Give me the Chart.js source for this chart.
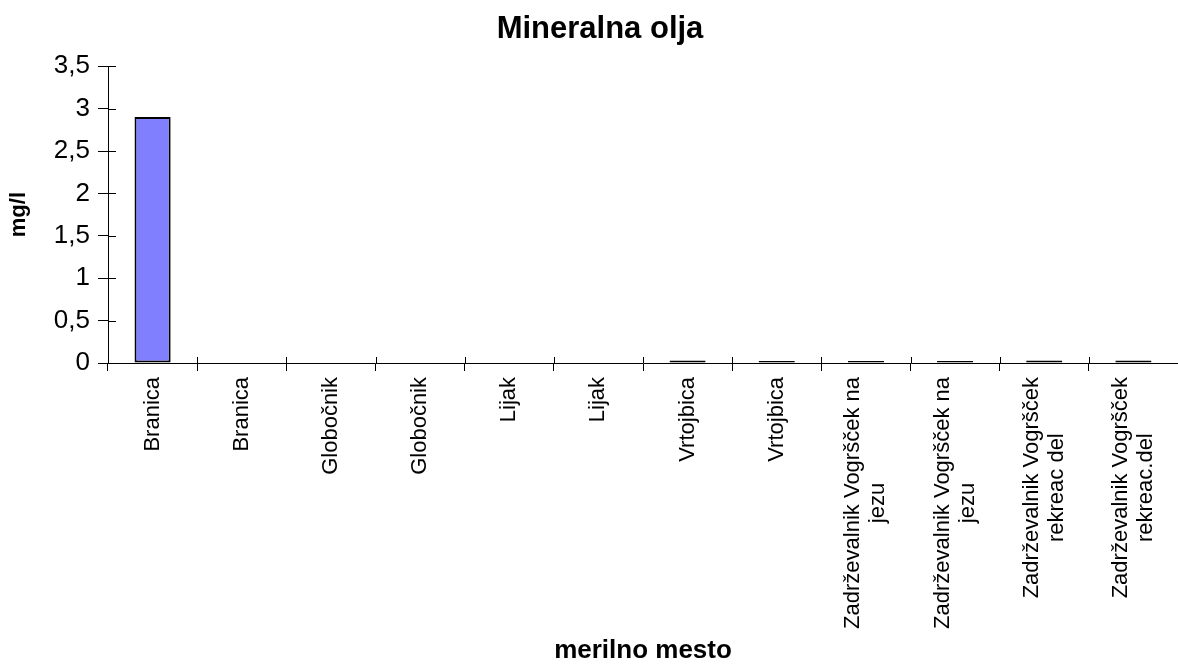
<!DOCTYPE html>
<html>
<head>
<meta charset="utf-8">
<script src="https://cdn.jsdelivr.net/npm/chart.js@4/dist/chart.umd.min.js"></script>
<style>
  html, body { margin: 0; padding: 0; background: #fff; }
  #wrap { width: 1178px; height: 666px; }
</style>
</head>
<body>
<div id="wrap"><canvas id="c"></canvas></div>
<script>
// data
const categories = [
  'Branica', 'Branica', 'Globočnik', 'Globočnik', 'Lijak', 'Lijak',
  'Vrtojbica', 'Vrtojbica',
  ['Zadrževalnik Vogršček na', 'jezu'],
  ['Zadrževalnik Vogršček na', 'jezu'],
  ['Zadrževalnik Vogršček', 'rekreac del'],
  ['Zadrževalnik Vogršček', 'rekreac.del']
];
const values = [2.9, 0, 0, 0, 0, 0, 0.03, 0.025, 0.025, 0.025, 0.03, 0.03];
const yMax = 3.5;
const yStep = 0.5;

const FONT = "'Liberation Sans', Arial, sans-serif";

// ticks that cross the axis lines + rotated, centred multi-line x labels
const axisExtras = {
  id: 'axisExtras',
  afterDraw(chart) {
    const ctx = chart.ctx;
    const x = chart.scales.x, y = chart.scales.y;
    ctx.save();
    ctx.strokeStyle = '#000';
    ctx.lineWidth = 1;
    ctx.beginPath();
    for (let v = 0; v <= yMax + 1e-9; v += yStep) {
      const py = Math.round(y.getPixelForValue(v)) + 0.5;
      ctx.moveTo(x.left, py);
      ctx.lineTo(x.left + 8, py);
    }
    for (let i = 0; i <= categories.length; i++) {
      const px = Math.round(x.getPixelForValue(i - 0.5)) + 0.5;
      ctx.moveTo(px, y.bottom);
      ctx.lineTo(px, y.bottom - 6);
    }
    ctx.stroke();

    ctx.fillStyle = '#000';
    ctx.font = '22px ' + FONT;
    ctx.textAlign = 'center';
    ctx.textBaseline = 'middle';
    const lh = 25;
    categories.forEach((lab, i) => {
      const lines = Array.isArray(lab) ? lab : [lab];
      const w = Math.max(...lines.map(l => ctx.measureText(l).width));
      const cx = x.getPixelForValue(i);
      const cy = y.bottom + 14 + w / 2;
      ctx.save();
      ctx.translate(cx, cy);
      ctx.rotate(-Math.PI / 2);
      lines.forEach((l, j) => {
        ctx.fillText(l, 0, (j - (lines.length - 1) / 2) * lh);
      });
      ctx.restore();
    });
    ctx.restore();
  }
};

new Chart(document.getElementById('c'), {
  type: 'bar',
  data: {
    labels: categories,
    datasets: [{
      data: values,
      backgroundColor: '#8080ff',
      borderColor: '#000',
      borderWidth: 2,
      borderSkipped: false,
      categoryPercentage: 1,
      barPercentage: 0.405
    }]
  },
  options: {
    responsive: true,
    maintainAspectRatio: false,
    animation: false,
    layout: { padding: { left: 22, right: 0, top: 0, bottom: 0 } },
    plugins: {
      legend: { display: false },
      tooltip: { enabled: false },
      title: {
        display: true,
        text: 'Mineralna olja',
        color: '#000',
        font: { family: FONT, size: 31, weight: 'bold', lineHeight: 1.2 },
        padding: { top: 11, bottom: 18 }
      }
    },
    scales: {
      x: {
        ticks: { display: false },
        grid: { display: true, drawOnChartArea: false, tickLength: 8, color: '#000', offset: true },
        border: { display: true, color: '#000', width: 1 },
        title: {
          display: true,
          text: 'merilno mesto',
          color: '#000',
          font: { family: FONT, size: 26, weight: 'bold', lineHeight: 1 },
          padding: { top: 0, bottom: 2 }
        },
        afterFit(s) { s.height = 303; }
      },
      y: {
        min: 0,
        max: yMax,
        ticks: {
          stepSize: yStep,
          color: '#000',
          padding: 8,
          font: { family: FONT, size: 26 },
          callback: v => String(v).replace('.', ',')
        },
        grid: { display: true, drawOnChartArea: false, tickLength: 10, color: '#000' },
        border: { display: true, color: '#000', width: 1 },
        title: {
          display: true,
          text: 'mg/l',
          color: '#000',
          font: { family: FONT, size: 22, weight: 'bold', lineHeight: 1 },
          padding: { top: -14, bottom: 0 }
        },
        afterFit(s) { s.width = 86; }
      }
    }
  },
  plugins: [axisExtras]
});
</script>
</body>
</html>
